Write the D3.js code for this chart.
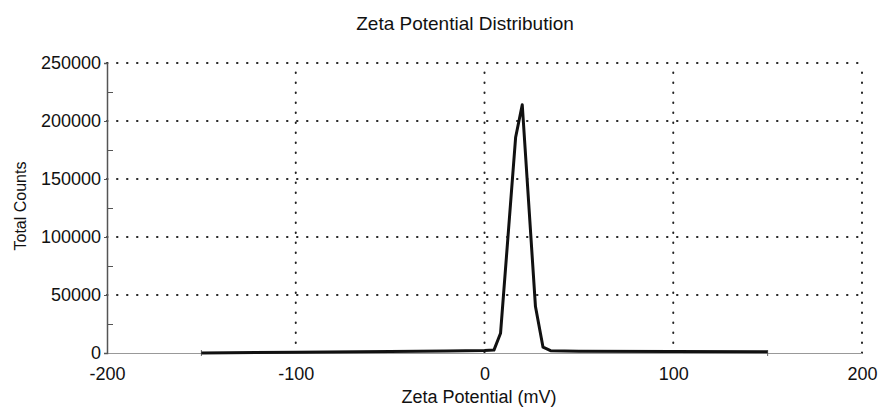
<!DOCTYPE html>
<html>
<head>
<meta charset="utf-8">
<script src="https://cdn.jsdelivr.net/npm/d3@7"></script>
<style>
  body { margin: 0; background: #fff; }
  text { font-family: "Liberation Sans", Arial, sans-serif; fill: #111; }
</style>
</head>
<body>
<svg id="chart"></svg>
<script>
// zeta potential (mV) and counts
var zeta = [-150, -100, -50, -20, 0, 5, 8.5, 16.5, 20, 27, 31, 35, 50, 100, 150];
var counts = [0, 600, 1200, 1800, 2200, 2500, 17000, 186000, 214000, 40000, 5000, 2000, 1600, 1200, 1000];

var xTicks = [-200, -100, 0, 100, 200];
var yTicks = [0, 50000, 100000, 150000, 200000, 250000];
var yMinor = [25000, 75000, 125000, 175000, 225000];

var width = 879;
var height = 407;
var margin = { top: 63, right: 17, bottom: 54, left: 107 };

var svg = d3.select('#chart')
  .attr('width', width)
  .attr('height', height);

var x = d3.scaleLinear()
  .domain([-200, 200])
  .range([margin.left, width - margin.right]);

var y = d3.scaleLinear()
  .domain([0, 250000])
  .range([height - margin.bottom, margin.top]);

// dotted grid
var grid = svg.append('g').attr('class', 'grid');
grid.selectAll('.hgrid')
  .data(yTicks.filter(function (d) { return d > 0; }))
  .enter().append('line')
    .attr('x1', x(-200)).attr('x2', x(200))
    .attr('y1', function (d) { return y(d); })
    .attr('y2', function (d) { return y(d); })
    .attr('stroke', '#222')
    .attr('stroke-width', 2)
    .attr('stroke-linecap', 'round')
    .attr('stroke-dasharray', '0.5,9.5');

grid.selectAll('.vgrid')
  .data(xTicks.filter(function (d) { return d > -200; }))
  .enter().append('line')
    .attr('y1', y(0)).attr('y2', y(250000))
    .attr('x1', function (d) { return x(d); })
    .attr('x2', function (d) { return x(d); })
    .attr('stroke', '#222')
    .attr('stroke-width', 2)
    .attr('stroke-linecap', 'round')
    .attr('stroke-dasharray', '0.5,9.5');

// x axis: thin grey baseline, labels only
var xAxis = svg.append('g')
  .attr('transform', 'translate(0,' + y(0) + ')')
  .call(d3.axisBottom(x).tickValues(xTicks).tickSize(0).tickPadding(14.5)
    .tickFormat(function (d) { return String(d); }));
xAxis.select('.domain').attr('stroke', '#999').attr('stroke-width', 1.2);
xAxis.selectAll('text').style('font-size', '18px');

// little end marks where the data range stops
svg.selectAll('.endmark')
  .data([zeta[0], zeta[zeta.length - 1]])
  .enter().append('line')
    .attr('x1', function (d) { return x(d); })
    .attr('x2', function (d) { return x(d); })
    .attr('y1', y(0) - 3).attr('y2', y(0) + 3)
    .attr('stroke', '#666');

// y axis
var yAxis = svg.append('g')
  .attr('transform', 'translate(' + x(-200) + ',0)')
  .call(d3.axisLeft(y).tickValues(yTicks).tickSize(3).tickPadding(3)
    .tickFormat(function (d) { return String(d); }));
yAxis.select('.domain').attr('stroke', '#555').attr('stroke-width', 1.5);
yAxis.selectAll('.tick line').attr('stroke', '#555');
yAxis.selectAll('text').style('font-size', '18px');

svg.append('g')
  .attr('transform', 'translate(' + x(-200) + ',0)')
  .call(d3.axisRight(y).tickValues(yMinor).tickSize(6).tickFormat(''))
  .call(function (g) {
    g.select('.domain').remove();
    g.selectAll('line').attr('stroke', '#555');
  });

// distribution line
var line = d3.line()
  .x(function (d, i) { return x(zeta[i]); })
  .y(function (d) { return y(d); });

svg.append('path')
  .datum(counts)
  .attr('fill', 'none')
  .attr('stroke', '#111')
  .attr('stroke-width', 3)
  .attr('stroke-linejoin', 'round')
  .attr('d', line);

// titles
svg.append('text')
  .attr('x', 465).attr('y', 30)
  .attr('text-anchor', 'middle')
  .style('font-size', '19px')
  .text('Zeta Potential Distribution');

svg.append('text')
  .attr('x', 479).attr('y', 403)
  .attr('text-anchor', 'middle')
  .style('font-size', '18px')
  .text('Zeta Potential (mV)');

svg.append('text')
  .attr('transform', 'translate(26,206) rotate(-90)')
  .attr('text-anchor', 'middle')
  .style('font-size', '16px')
  .text('Total Counts');
</script>
</body>
</html>
